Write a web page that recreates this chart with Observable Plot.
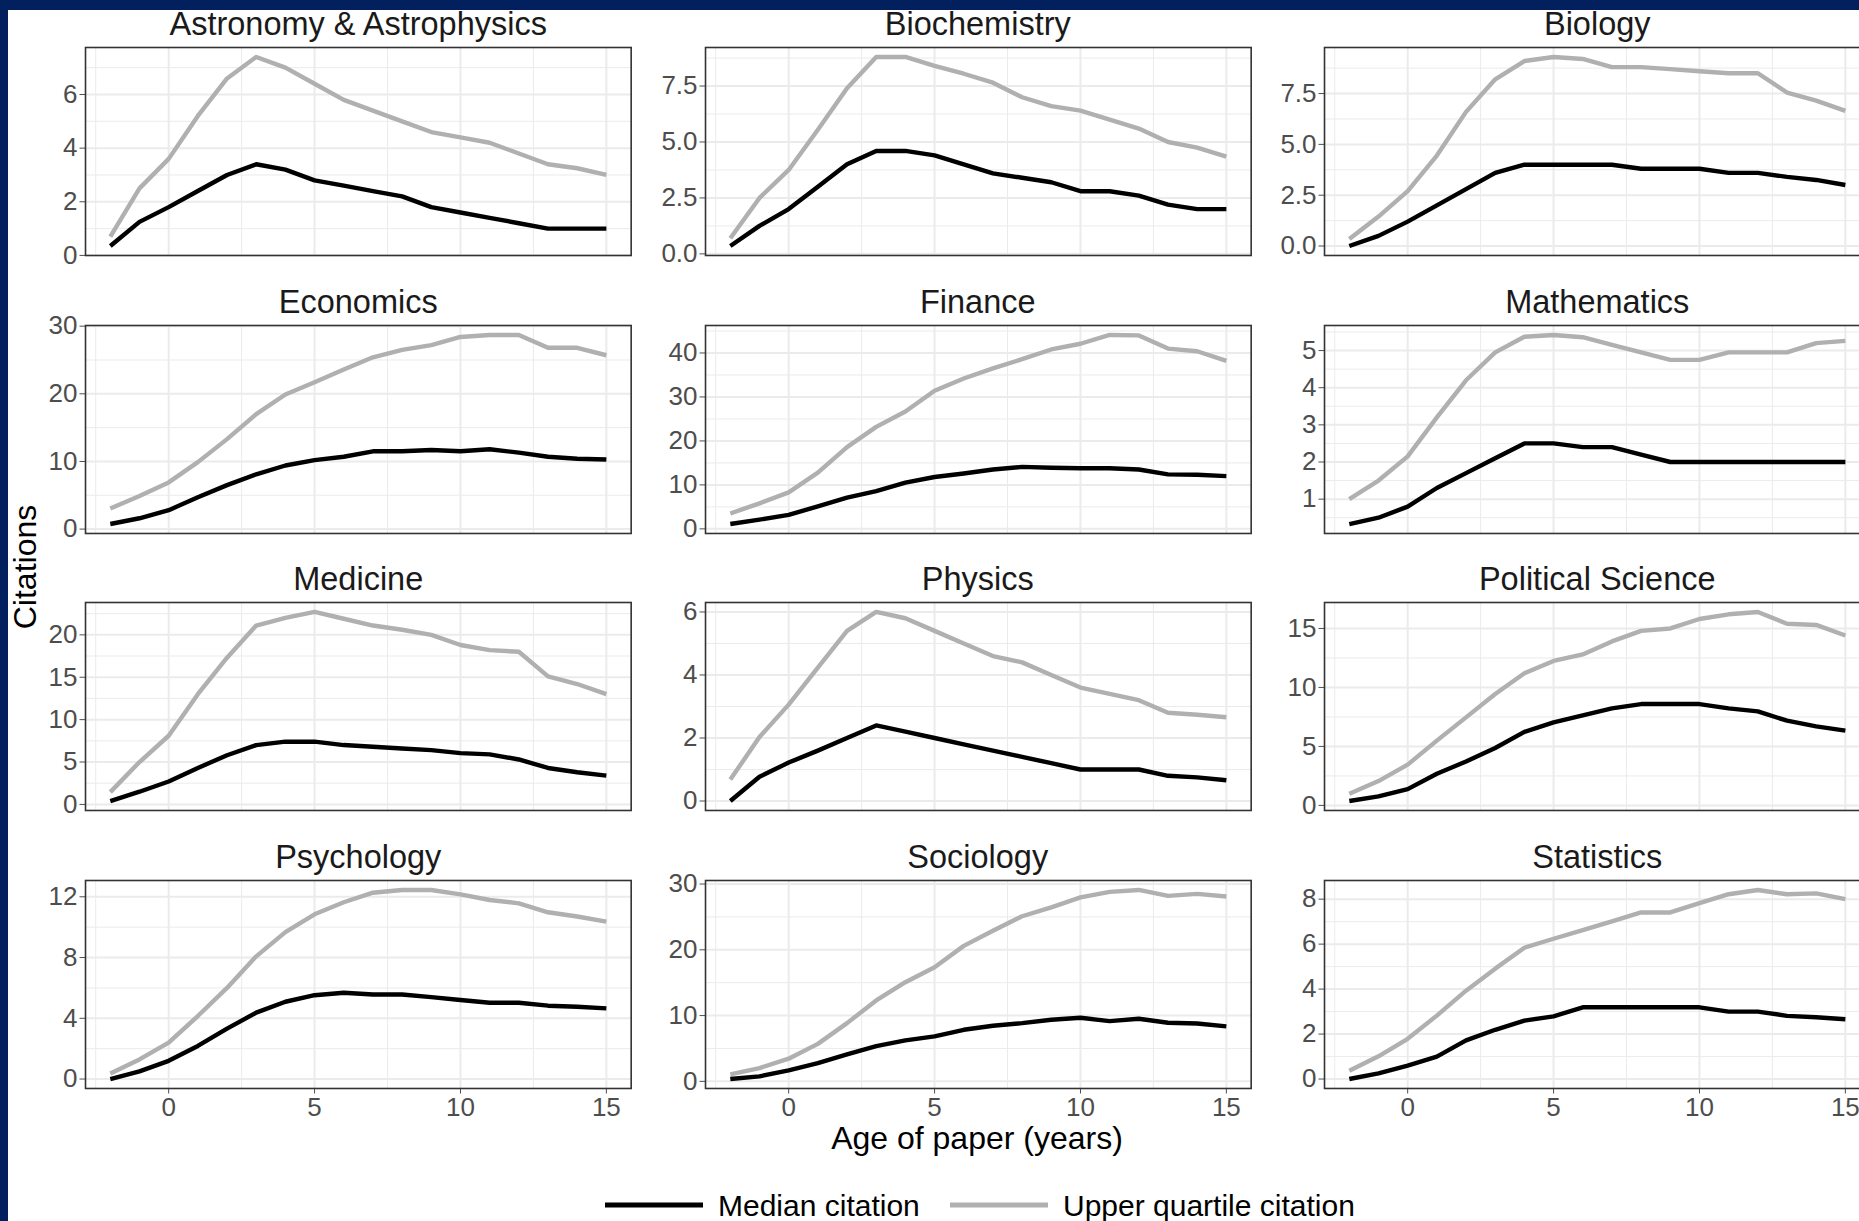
<!DOCTYPE html>
<html>
<head>
<meta charset="utf-8">
<script src="https://cdn.jsdelivr.net/npm/d3@7"></script>
<script src="https://cdn.jsdelivr.net/npm/@observablehq/plot@0.6"></script>
<style>
  html, body { margin: 0; padding: 0; background: #ffffff; }
  #page { position: relative; width: 1859px; height: 1221px; overflow: hidden; background: #ffffff;
          font-family: "Liberation Sans", Arial, Helvetica, sans-serif; }
  .panel { position: absolute; }
  .band { position: absolute; background: #03205e; z-index: 10; }
  #overlay { position: absolute; left: 0; top: 0; z-index: 5; overflow: visible; }
</style>
</head>
<body>
<div id="page">
  <div class="band" style="left:0;top:0;width:1859px;height:10px;"></div>
  <div class="band" style="left:0;top:0;width:8px;height:1221px;"></div>
</div>
<script>
// ---------------- data ----------------
const ages = [-2, -1, 0, 1, 2, 3, 4, 5, 6, 7, 8, 9, 10, 11, 12, 13, 14, 15];

const fields = ["Astronomy & Astrophysics", "Biochemistry", "Biology",
                "Economics", "Finance", "Mathematics",
                "Medicine", "Physics", "Political Science",
                "Psychology", "Sociology", "Statistics"];

const seriesNames = ["Median citation", "Upper quartile citation"];

const astroMedian = [0.35, 1.25, 1.8, 2.4, 3.0, 3.4, 3.2, 2.8, 2.6, 2.4, 2.2, 1.8, 1.6, 1.4, 1.2, 1.0, 1.0, 1.0];
const astroUpper  = [0.7, 2.5, 3.6, 5.2, 6.6, 7.4, 7.0, 6.4, 5.8, 5.4, 5.0, 4.6, 4.4, 4.2, 3.8, 3.4, 3.25, 3.0];

const biochemMedian = [0.35, 1.25, 2.0, 3.0, 4.0, 4.6, 4.6, 4.4, 4.0, 3.6, 3.4, 3.2, 2.8, 2.8, 2.6, 2.2, 2.0, 2.0];
const biochemUpper  = [0.7, 2.5, 3.75, 5.55, 7.4, 8.8, 8.8, 8.4, 8.05, 7.65, 7.0, 6.6, 6.4, 6.0, 5.6, 5.0, 4.75, 4.35];

const biologyMedian = [0.0, 0.5, 1.2, 2.0, 2.8, 3.6, 4.0, 4.0, 4.0, 4.0, 3.8, 3.8, 3.8, 3.6, 3.6, 3.4, 3.25, 3.0];
const biologyUpper  = [0.35, 1.45, 2.7, 4.45, 6.6, 8.2, 9.1, 9.3, 9.2, 8.8, 8.8, 8.7, 8.6, 8.5, 8.5, 7.55, 7.15, 6.65];

const econMedian = [0.75, 1.6, 2.8, 4.7, 6.5, 8.1, 9.4, 10.2, 10.7, 11.5, 11.5, 11.7, 11.5, 11.8, 11.3, 10.7, 10.4, 10.3];
const econUpper  = [3.05, 4.9, 6.9, 9.9, 13.3, 17.0, 19.9, 21.7, 23.6, 25.4, 26.5, 27.2, 28.4, 28.7, 28.7, 26.8, 26.8, 25.7];

const financeMedian = [1.1, 2.1, 3.2, 5.1, 7.1, 8.6, 10.5, 11.8, 12.6, 13.5, 14.1, 13.9, 13.8, 13.8, 13.5, 12.4, 12.3, 12.0];
const financeUpper  = [3.5, 5.8, 8.3, 12.8, 18.6, 23.2, 26.7, 31.4, 34.2, 36.5, 38.6, 40.8, 42.1, 44.1, 44.0, 41.0, 40.4, 38.2];

const mathMedian = [0.33, 0.5, 0.8, 1.3, 1.7, 2.1, 2.5, 2.5, 2.4, 2.4, 2.2, 2.0, 2.0, 2.0, 2.0, 2.0, 2.0, 2.0];
const mathUpper  = [1.0, 1.5, 2.15, 3.2, 4.2, 4.95, 5.37, 5.42, 5.36, 5.15, 4.95, 4.75, 4.75, 4.95, 4.95, 4.95, 5.2, 5.26];

const medicineMedian = [0.4, 1.5, 2.7, 4.3, 5.8, 7.0, 7.4, 7.4, 7.0, 6.8, 6.6, 6.4, 6.05, 5.9, 5.3, 4.3, 3.8, 3.4];
const medicineUpper  = [1.45, 5.0, 8.1, 13.0, 17.3, 21.1, 22.0, 22.7, 21.9, 21.1, 20.6, 20.0, 18.8, 18.2, 18.0, 15.1, 14.2, 13.0];

const physicsMedian = [0.0, 0.77, 1.22, 1.6, 2.0, 2.4, 2.2, 2.0, 1.8, 1.6, 1.4, 1.2, 1.0, 1.0, 1.0, 0.8, 0.75, 0.66];
const physicsUpper  = [0.68, 2.03, 3.06, 4.23, 5.4, 6.0, 5.8, 5.4, 5.0, 4.6, 4.4, 4.0, 3.6, 3.4, 3.2, 2.8, 2.74, 2.66];

const polsciMedian = [0.37, 0.76, 1.38, 2.68, 3.72, 4.87, 6.23, 7.04, 7.63, 8.23, 8.59, 8.59, 8.59, 8.23, 7.97, 7.18, 6.7, 6.34];
const polsciUpper  = [0.99, 2.06, 3.46, 5.49, 7.46, 9.44, 11.2, 12.25, 12.8, 13.9, 14.8, 15.0, 15.8, 16.2, 16.4, 15.4, 15.3, 14.4];

const psychMedian = [0.0, 0.5, 1.2, 2.18, 3.32, 4.37, 5.09, 5.52, 5.68, 5.57, 5.57, 5.39, 5.2, 5.02, 5.02, 4.83, 4.76, 4.65];
const psychUpper  = [0.37, 1.29, 2.4, 4.15, 6.0, 8.08, 9.67, 10.85, 11.64, 12.27, 12.45, 12.45, 12.16, 11.79, 11.57, 10.98, 10.7, 10.37];

const socMedian = [0.35, 0.76, 1.67, 2.78, 4.1, 5.36, 6.22, 6.83, 7.84, 8.45, 8.85, 9.36, 9.66, 9.16, 9.51, 8.9, 8.8, 8.35];
const socUpper  = [1.06, 2.02, 3.44, 5.7, 8.85, 12.3, 15.07, 17.35, 20.6, 22.9, 25.1, 26.45, 27.97, 28.8, 29.1, 28.2, 28.5, 28.1];

const statsMedian = [0.0, 0.25, 0.6, 1.0, 1.72, 2.19, 2.6, 2.79, 3.19, 3.19, 3.19, 3.19, 3.19, 3.0, 3.0, 2.81, 2.75, 2.66];
const statsUpper  = [0.37, 1.01, 1.79, 2.82, 3.93, 4.91, 5.84, 6.24, 6.62, 7.01, 7.41, 7.41, 7.82, 8.22, 8.41, 8.22, 8.26, 8.0];

// tick labels
const xTicks = [0, 5, 10, 15];
const astroTicks = [0, 2, 4, 6];
const biochemTicks = [0, 2.5, 5, 7.5];
const biologyTicks = [0, 2.5, 5, 7.5];
const econTicks = [0, 10, 20, 30];
const financeTicks = [0, 10, 20, 30, 40];
const mathTicks = [1, 2, 3, 4, 5];
const medicineTicks = [0, 5, 10, 15, 20];
const physicsTicks = [0, 2, 4, 6];
const polsciTicks = [0, 5, 10, 15];
const psychTicks = [0, 4, 8, 12];
const socTicks = [0, 10, 20, 30];
const statsTicks = [0, 2, 4, 6, 8];

// ---------------- build panels table ----------------
const medians = [astroMedian, biochemMedian, biologyMedian, econMedian, financeMedian, mathMedian,
                 medicineMedian, physicsMedian, polsciMedian, psychMedian, socMedian, statsMedian];
const uppers = [astroUpper, biochemUpper, biologyUpper, econUpper, financeUpper, mathUpper,
                medicineUpper, physicsUpper, polsciUpper, psychUpper, socUpper, statsUpper];
const yTickSets = [astroTicks, biochemTicks, biologyTicks, econTicks, financeTicks, mathTicks,
                   medicineTicks, physicsTicks, polsciTicks, psychTicks, socTicks, statsTicks];
const decimalPanels = ["Biochemistry", "Biology"];

const panels = fields.map((name, i) => ({
  name, median: medians[i], upper: uppers[i], ticks: yTickSets[i],
  fmt: decimalPanels.includes(name) ? d3.format(".1f") : d3.format("d")
}));

// ---------------- layout ----------------
const PW = 545.7, PH = 208;           // panel size
const colLeft = [85.4, 704.9, 1324.4];
const rowTop = [47, 324.5, 602, 879.5];
const ML = 90, MR = 4, MT = 4;
const FONT = '"Liberation Sans", Arial, Helvetica, sans-serif';
const xDomain = [-2.85, 15.85];
const MEDIAN_COLOR = "#000000", UPPER_COLOR = "#b0b0b0";

function minorBreaks(ticks, domain) {
  const step = ticks[1] - ticks[0];
  const ext = [ticks[0] - step, ...ticks, ticks[ticks.length - 1] + step];
  return d3.pairs(ext).map(([a, b]) => (a + b) / 2).filter(v => v >= domain[0] && v <= domain[1]);
}

const page = document.getElementById("page");

panels.forEach((p, i) => {
  const row = Math.floor(i / 3), col = i % 3;
  const bottom = row === 3;
  const MB = bottom ? 50 : 4;
  const all = p.median.concat(p.upper);
  const lo = d3.min(all), hi = d3.max(all), pad = (hi - lo) * 0.05;
  const yDomain = [lo - pad, hi + pad];
  const yMinor = minorBreaks(p.ticks, yDomain);
  const xMinor = minorBreaks(xTicks, xDomain);

  const medData = ages.map((a, k) => ({age: a, value: p.median[k], series: seriesNames[0]}));
  const upData = ages.map((a, k) => ({age: a, value: p.upper[k], series: seriesNames[1]}));

  const chart = Plot.plot({
    width: ML + PW + MR,
    height: MT + PH + MB,
    marginLeft: ML, marginRight: MR, marginTop: MT, marginBottom: MB,
    style: {fontFamily: FONT, fontSize: "26px", color: "#4d4d4d", background: "transparent", overflow: "visible"},
    x: {domain: xDomain, ticks: xTicks, tickSize: 5.5, tickPadding: 3.5, label: null,
        axis: bottom ? "bottom" : null},
    y: {domain: yDomain, ticks: p.ticks, tickSize: 5.5, tickPadding: 2.5, tickFormat: p.fmt, label: null},
    marks: [
      Plot.ruleX(xMinor, {stroke: "#ebebeb", strokeWidth: 1}),
      Plot.ruleY(yMinor, {stroke: "#ebebeb", strokeWidth: 1}),
      Plot.ruleX(xTicks, {stroke: "#ebebeb", strokeWidth: 2}),
      Plot.ruleY(p.ticks, {stroke: "#ebebeb", strokeWidth: 2}),
      Plot.line(upData, {x: "age", y: "value", stroke: UPPER_COLOR, strokeWidth: 4.4, strokeLinecap: "butt", strokeLinejoin: "round"}),
      Plot.line(medData, {x: "age", y: "value", stroke: MEDIAN_COLOR, strokeWidth: 4.4, strokeLinecap: "butt", strokeLinejoin: "round"}),
      Plot.frame({stroke: "#333333", strokeWidth: 1.6})
    ]
  });
  chart.classList.add("panel");
  chart.style.left = (colLeft[col] - ML) + "px";
  chart.style.top = (rowTop[row] - MT) + "px";
  page.appendChild(chart);
});

// ---------------- titles & legend overlay ----------------
const ov = d3.create("svg")
  .attr("id", "overlay")
  .attr("width", 1859).attr("height", 1221)
  .style("font-family", FONT);

panels.forEach((p, i) => {
  const row = Math.floor(i / 3), col = i % 3;
  ov.append("text")
    .attr("x", colLeft[col] + PW / 2)
    .attr("y", rowTop[row] - 12)
    .attr("text-anchor", "middle")
    .attr("font-size", 32.5)
    .attr("fill", "#1a1a1a")
    .text(p.name);
});

ov.append("text")
  .attr("x", 977).attr("y", 1149)
  .attr("text-anchor", "middle")
  .attr("font-size", 32)
  .attr("fill", "#000")
  .text("Age of paper (years)");

ov.append("text")
  .attr("transform", "translate(36,567) rotate(-90)")
  .attr("text-anchor", "middle")
  .attr("font-size", 32)
  .attr("fill", "#000")
  .text("Citations");

const legendY = 1205;
const legendItems = [
  {name: seriesNames[0], color: MEDIAN_COLOR, x0: 605, x1: 703, tx: 718},
  {name: seriesNames[1], color: UPPER_COLOR, x0: 950, x1: 1048, tx: 1063}
];
legendItems.forEach(d => {
  ov.append("line")
    .attr("x1", d.x0).attr("x2", d.x1).attr("y1", legendY).attr("y2", legendY)
    .attr("stroke", d.color).attr("stroke-width", 5);
  ov.append("text")
    .attr("x", d.tx).attr("y", legendY + 10.5)
    .attr("font-size", 30)
    .attr("fill", "#000")
    .text(d.name);
});

page.appendChild(ov.node());
</script>
</body>
</html>
